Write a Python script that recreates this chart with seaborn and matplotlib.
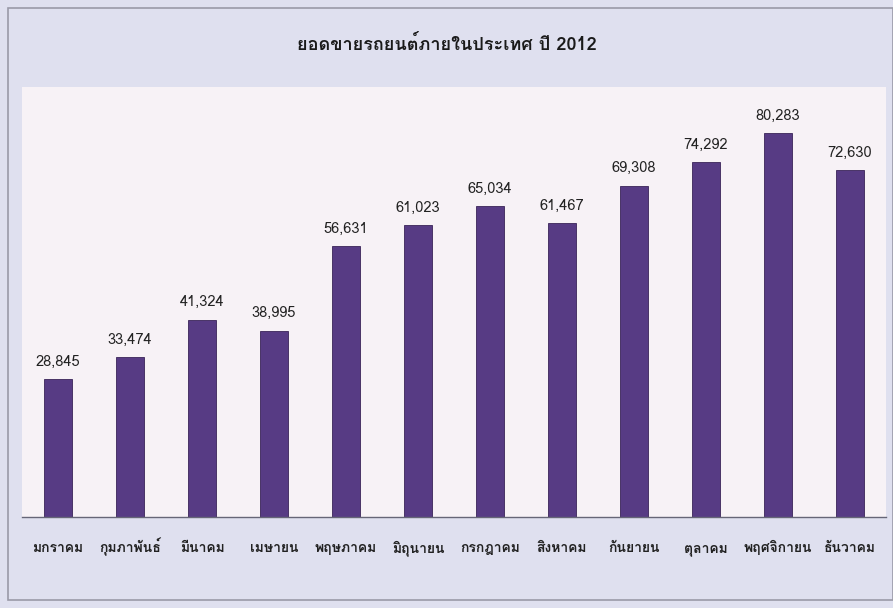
import matplotlib
matplotlib.use("Agg")
import matplotlib.pyplot as plt
from matplotlib import font_manager
import seaborn as sns
import pandas as pd

months = ["มกราคม", "กุมภาพันธ์", "มีนาคม", "เมษายน", "พฤษภาคม", "มิถุนายน",
          "กรกฎาคม", "สิงหาคม", "กันยายน", "ตุลาคม", "พฤศจิกายน", "ธันวาคม"]
sales = [28845, 33474, 41324, 38995, 56631, 61023, 65034, 61467, 69308, 74292, 80283, 72630]
title = "ยอดขายรถยนต์ภายในประเทศ ปี 2012"

# find a font with Thai glyphs
thai_font = None
try:
    from fontTools.ttLib import TTFont
    for f in sorted(font_manager.findSystemFonts()):
        try:
            tt = TTFont(f, fontNumber=0, lazy=True)
            cmap = tt.getBestCmap()
            if cmap and 0x0E01 in cmap and 0x0E21 in cmap:
                thai_font = font_manager.FontProperties(fname=f).get_name()
                break
        except Exception:
            continue
except Exception:
    pass

sns.set_theme(style="white")
fams = ([thai_font] if thai_font else []) + ["DejaVu Sans"]
plt.rcParams["font.family"] = fams

df = pd.DataFrame({"month": months, "sales": sales})

fig = plt.figure(figsize=(8.93, 6.08), dpi=100)
fig.patch.set_facecolor("#dfe0ef")
ax = fig.add_axes([22/893, 91/608, 864/893, 430/608])
ax.set_facecolor("#f7f2f6")

sns.barplot(data=df, x="month", y="sales", color="#573b84", width=0.39,
            saturation=1, ax=ax, edgecolor="#3a2458", linewidth=0.6)

for i, v in enumerate(sales):
    ax.text(i, v + 2200, f"{v:,}", ha="center", va="bottom", fontsize=10.5,
            color="#222222")

ax.set_xlim(-0.5, 11.5)
ax.set_ylim(0, 90000)
ax.set_yticks([])
ax.set_xlabel("")
ax.set_ylabel("")
for s in ["top", "right", "left"]:
    ax.spines[s].set_visible(False)
ax.spines["bottom"].set_color("#666677")
ax.spines["bottom"].set_linewidth(1.0)
ax.tick_params(axis="x", length=0, pad=25, labelsize=10, labelcolor="#222222")
for lab in ax.get_xticklabels():
    lab.set_verticalalignment("baseline")
    lab.set_fontweight("bold")

fig.text(0.5, 1 - 45/608, title, ha="center", va="center", fontsize=13,
         fontweight="bold", color="#1a1a1a")

# outer frame
frame = plt.Rectangle((8/893, 8/608), 1 - 8/893, 1 - 16/608, transform=fig.transFigure,
                      fill=False, edgecolor="#9a9aa8", linewidth=1.2)
fig.add_artist(frame)

fig.savefig("out.png", dpi=100)
